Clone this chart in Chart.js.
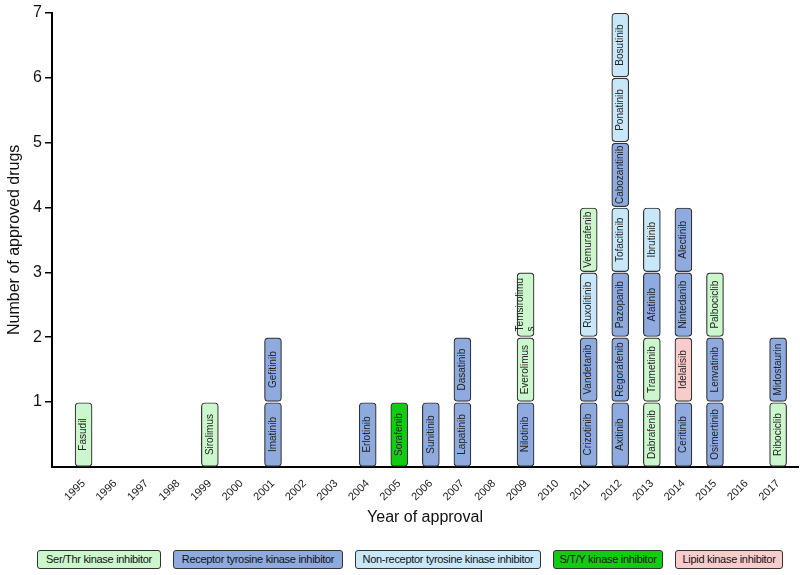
<!DOCTYPE html>
<html>
<head>
<meta charset="utf-8">
<script src="https://cdn.jsdelivr.net/npm/chart.js@4.4.1/dist/chart.umd.min.js"></script>
<style>
  body { margin: 0; background: #fff; }
  #wrap { position: relative; width: 800px; height: 535px; }
  #legend {
    position: absolute; top: 550px; left: 37px;
    display: flex; gap: 12px;
    font-family: "Liberation Sans", Arial, sans-serif;
    font-size: 11px; letter-spacing: -0.3px; color: #111;
  }
  #legend span {
    display: block; box-sizing: border-box; white-space: nowrap; text-align: center;
    border: 1px solid #333; border-radius: 3px;
    height: 19px; line-height: 17px;
  }
</style>
</head>
<body>
<div id="wrap"><canvas id="drugChart"></canvas></div>
<div id="legend"></div>
<script>
// tick labels on the x axis
const years = [1995, 1996, 1997, 1998, 1999, 2000, 2001, 2002, 2003, 2004, 2005, 2006,
               2007, 2008, 2009, 2010, 2011, 2012, 2013, 2014, 2015, 2016, 2017];

// inhibitor classes (legend)
const classNames = ['Ser/Thr kinase inhibitor', 'Receptor tyrosine kinase inhibitor',
                    'Non-receptor tyrosine kinase  inhibitor', 'S/T/Y kinase inhibitor',
                    'Lipid kinase inhibitor'];
const classColors = ['#ccf6cc', '#8eaadf', '#c8e8fa', '#11cc11', '#f9cccc'];
const legendWidths = [124, 170, 186, 110, 108];

// approved drugs, listed bottom to top within each year
const drugNames = ['Fasudil', 'Sirolimus', 'Imatinib', 'Gefitinib', 'Erlotinib', 'Sorafenib',
  'Sunitinib', 'Lapatinib', 'Dasatinib', 'Nilotinib', 'Everolimus', 'Temsirolimus',
  'Crizotinib', 'Vandetanib', 'Ruxolitinib', 'Vemurafenib',
  'Axitinib', 'Regorafenib', 'Pazopanib', 'Tofacitinib', 'Cabozantinib', 'Ponatinib', 'Bosutinib',
  'Dabrafenib', 'Trametinib', 'Afatinib', 'Ibrutinib',
  'Ceritinib', 'Idelalisib', 'Nintedanib', 'Alectinib',
  'Osimertinib', 'Lenvatinib', 'Palbociclib', 'Ribociclib', 'Midostaurin'];
const drugYears = [1995, 1999, 2001, 2001, 2004, 2005,
  2006, 2007, 2007, 2009, 2009, 2009,
  2011, 2011, 2011, 2011,
  2012, 2012, 2012, 2012, 2012, 2012, 2012,
  2013, 2013, 2013, 2013,
  2014, 2014, 2014, 2014,
  2015, 2015, 2015, 2017, 2017];
// index into classNames
const drugClasses = [0, 0, 1, 1, 1, 3,
  1, 1, 1, 1, 0, 0,
  1, 1, 2, 0,
  1, 1, 1, 2, 1, 2, 2,
  0, 0, 1, 2,
  1, 4, 1, 1,
  1, 1, 0, 0, 1];

// labels that break onto two lines in the original
const wrappedLabels = { Temsirolimus: ['Temsirolimu', 's'] };

// build one floating-bar dataset per class
const stackCount = {};
const datasets = classNames.map((name, c) => ({
  label: name,
  data: [],
  backgroundColor: classColors[c],
  borderColor: '#333',
  borderWidth: 1.2,
  borderRadius: 4,
  borderSkipped: false,
  barThickness: 17,
  grouped: false
}));
drugNames.forEach((drug, i) => {
  const yr = drugYears[i];
  const lvl = stackCount[yr] || 0;
  stackCount[yr] = lvl + 1;
  datasets[drugClasses[i]].data.push({ x: yr, y: [lvl + 0.01, lvl + 0.99], name: drug });
});

const barLabels = {
  id: 'barLabels',
  afterDatasetsDraw(chart) {
    const ctx = chart.ctx;
    ctx.save();
    ctx.fillStyle = '#222';
    ctx.font = '10px "Liberation Sans", Arial, sans-serif';
    ctx.textBaseline = 'middle';
    chart.data.datasets.forEach((ds, d) => {
      chart.getDatasetMeta(d).data.forEach((bar, i) => {
        const name = ds.data[i].name;
        const lines = wrappedLabels[name] || [name];
        ctx.save();
        ctx.translate(bar.x, (bar.y + bar.base) / 2);
        ctx.rotate(-Math.PI / 2);
        if (lines.length === 1) {
          ctx.textAlign = 'center';
          ctx.fillText(name, 0, 0);
        } else {
          const start = -ctx.measureText(lines[0]).width / 2;
          ctx.textAlign = 'left';
          lines.forEach((t, j) => ctx.fillText(t, start, (j - 0.5) * 11));
        }
        ctx.restore();
      });
    });
    ctx.restore();
  }
};

new Chart(document.getElementById('drugChart'), {
  type: 'bar',
  data: { datasets: datasets },
  options: {
    responsive: true,
    maintainAspectRatio: false,
    animation: false,
    layout: { padding: { left: 0, top: 5, right: 2, bottom: 0 } },
    plugins: { legend: { display: false }, tooltip: { enabled: false } },
    scales: {
      x: {
        type: 'linear',
        offset: false,
        min: 1994,
        max: 2017.63,
        afterBuildTicks: axis => { axis.ticks = years.map(v => ({ value: v })); },
        afterFit: axis => { axis.height = 68; },
        grid: { display: false, offset: false },
        border: { display: true, color: '#000', width: 2 },
        ticks: {
          autoSkip: false,
          minRotation: 45,
          maxRotation: 45,
          padding: 2,
          color: '#222',
          font: { family: '"Liberation Sans", Arial', size: 11 },
          callback: v => String(v)
        },
        title: {
          display: true,
          text: 'Year of approval',
          color: '#111',
          font: { family: '"Liberation Sans", Arial', size: 16 },
          padding: { top: 4, bottom: 8 }
        }
      },
      y: {
        min: 0,
        max: 7,
        afterFit: axis => { axis.width = 52; },
        grid: {
          drawOnChartArea: false,
          drawTicks: true,
          tickLength: 7,
          tickColor: c => (c.tick && c.tick.value === 0) ? 'rgba(0,0,0,0)' : '#000',
          lineWidth: 1.5
        },
        border: { display: true, color: '#000', width: 2 },
        ticks: {
          stepSize: 1,
          padding: 3,
          color: '#111',
          font: { family: '"Liberation Sans", Arial', size: 16 },
          callback: v => v === 0 ? '' : v
        },
        title: {
          display: true,
          text: 'Number of approved drugs',
          color: '#111',
          font: { family: '"Liberation Sans", Arial', size: 16 },
          padding: { top: 5, bottom: 0 }
        }
      }
    }
  },
  plugins: [barLabels]
});

// legend boxes
const legendEl = document.getElementById('legend');
classNames.forEach((name, c) => {
  const s = document.createElement('span');
  s.textContent = name;
  s.style.background = classColors[c];
  s.style.width = legendWidths[c] + 'px';
  legendEl.appendChild(s);
});
</script>
</body>
</html>
